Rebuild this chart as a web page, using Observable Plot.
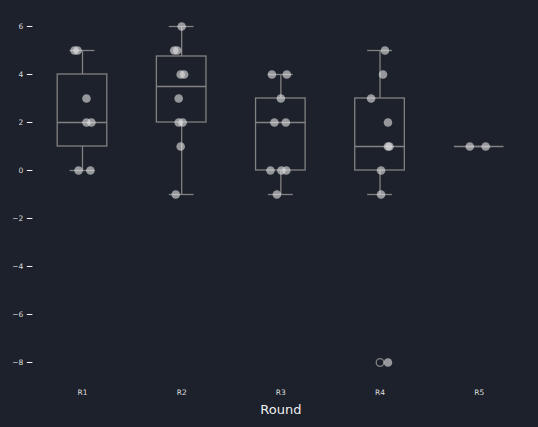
<!DOCTYPE html>
<html>
<head>
<meta charset="utf-8">
<script src="https://cdn.jsdelivr.net/npm/d3@7"></script>
<script src="https://cdn.jsdelivr.net/npm/@observablehq/plot@0.6"></script>
<style>
  html, body { margin: 0; padding: 0; background: #1c212b; }
</style>
</head>
<body>
<div id="chart"></div>
<script>
// Categories
const rounds = ["R1", "R2", "R3", "R4", "R5"];
// Values per round
const r1 = [5, 5, 3, 2, 2, 0, 0];
const r2 = [6, 5, 5, 4, 4, 3, 2, 2, 1, -1];
const r3 = [4, 4, 3, 2, 2, 0, 0, 0, -1];
const r4 = [5, 4, 3, 2, 1, 1, 0, -1, -8];
const r5 = [1, 1];
// Strip jitter of each point, in category units
const r1Jitter = [-0.08, -0.05, 0.04, 0.04, 0.09, -0.04, 0.08];
const r2Jitter = [0.0, -0.075, -0.045, -0.01, 0.025, -0.03, -0.03, 0.01, -0.01, -0.06];
const r3Jitter = [-0.09, 0.06, 0.0, -0.065, 0.05, -0.105, 0.005, 0.055, -0.04];
const r4Jitter = [0.05, 0.03, -0.09, 0.08, 0.08, 0.095, 0.01, 0.01, 0.08];
const r5Jitter = [-0.095, 0.065];
const yTicks = [-8, -6, -4, -2, 0, 2, 4, 6];

const series = [r1, r2, r3, r4, r5];
const jitters = [r1Jitter, r2Jitter, r3Jitter, r4Jitter, r5Jitter];

const points = series.flatMap((vals, i) =>
  vals.map((v, j) => ({i, x: i + jitters[i][j], y: v})));

const stats = series.map((vals, i) => {
  const s = vals.slice().sort(d3.ascending);
  const q1 = d3.quantileSorted(s, 0.25);
  const med = d3.quantileSorted(s, 0.5);
  const q3 = d3.quantileSorted(s, 0.75);
  const iqr = q3 - q1;
  const inside = s.filter(v => v >= q1 - 1.5 * iqr && v <= q3 + 1.5 * iqr);
  const lo = d3.min(inside), hi = d3.max(inside);
  const out = s.filter(v => v < q1 - 1.5 * iqr || v > q3 + 1.5 * iqr);
  return {i, q1, med, q3, lo, hi, out};
});
const outliers = stats.flatMap(d => d.out.map(v => ({i: d.i, y: v})));

const boxColor = "#828282";
const lw = 1.3;

const chart = Plot.plot({
  width: 538,
  height: 427,
  marginLeft: 32.4,
  marginRight: 9.7,
  marginTop: 9.2,
  marginBottom: 48.2,
  style: {background: "#1c212b", color: "#e6e6e6", fontFamily: "DejaVu Sans", fontSize: "7.5px"},
  x: {domain: [-0.5, 4.5], label: null},
  y: {domain: [-8.7, 6.7], label: null},
  marks: [
    Plot.axisY({ticks: yTicks, tickSize: 5.5, tickPadding: 4, stroke: "#ffffff", fill: "#dddddd", label: null}),
    Plot.axisX({ticks: [0, 1, 2, 3, 4], tickFormat: i => rounds[i], tickSize: 0, tickPadding: 10, fill: "#dddddd", label: null}),
    Plot.rect(stats, {x1: d => d.i - 0.25, x2: d => d.i + 0.25, y1: "q1", y2: "q3", fill: "none", stroke: boxColor, strokeWidth: lw}),
    Plot.ruleY(stats, {x1: d => d.i - 0.25, x2: d => d.i + 0.25, y: "med", stroke: boxColor, strokeWidth: lw}),
    Plot.ruleX(stats, {x: "i", y1: "lo", y2: "q1", stroke: boxColor, strokeWidth: lw}),
    Plot.ruleX(stats, {x: "i", y1: "q3", y2: "hi", stroke: boxColor, strokeWidth: lw}),
    Plot.ruleY(stats, {x1: d => d.i - 0.125, x2: d => d.i + 0.125, y: "lo", stroke: boxColor, strokeWidth: lw}),
    Plot.ruleY(stats, {x1: d => d.i - 0.125, x2: d => d.i + 0.125, y: "hi", stroke: boxColor, strokeWidth: lw}),
    Plot.dot(outliers, {x: "i", y: "y", r: 3.8, stroke: boxColor, strokeWidth: lw, fill: "none"}),
    Plot.dot(points, {x: "x", y: "y", r: 4.3, fill: "#e0e0e0", fillOpacity: 0.62, stroke: "none"}),
    Plot.text(["Round"], {frameAnchor: "bottom", dy: 31, text: d => d, fontSize: 13, fill: "#eeeeee", lineAnchor: "middle"})
  ]
});
document.getElementById("chart").appendChild(chart);
</script>
</body>
</html>
